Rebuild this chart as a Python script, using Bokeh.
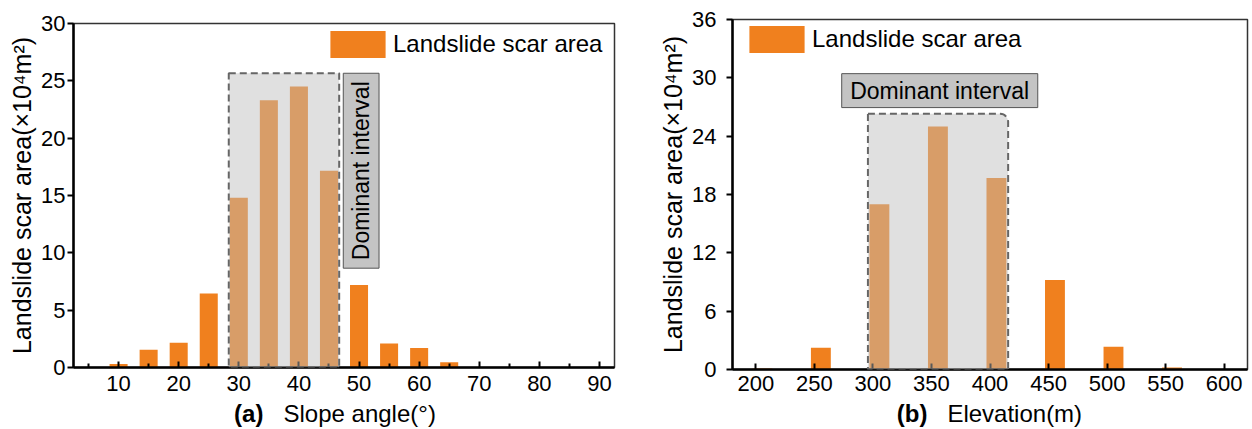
from bokeh.plotting import figure
from bokeh.layouts import row, column
from bokeh.models import ColumnDataSource, FixedTicker, BoxAnnotation, Label, Legend, LegendItem, Range1d
from bokeh.transform import dodge
from bokeh.embed import file_html
from bokeh.resources import INLINE
from math import pi

FONT = "Liberation Sans"
ORANGE = "#f0801e"

# ---- data (a): slope angle ----
slope_angle = [10, 15, 20, 25, 30, 35, 40, 45, 50, 55, 60, 65, 70, 75, 80, 85, 90]
slope_area = [0.3, 1.55, 2.15, 6.45, 14.8, 23.3, 24.5, 17.15, 7.2, 2.1, 1.7, 0.45, 0, 0, 0, 0, 0]
slope_ticks = [10, 20, 30, 40, 50, 60, 70, 80, 90]
slope_minor = [5, 15, 25, 35, 45, 55, 65, 75, 85]
slope_yticks = [0, 5, 10, 15, 20, 25, 30]

# ---- data (b): elevation ----
elevation = [200, 250, 300, 350, 400, 450, 500, 550, 600]
elev_area = [0.1, 2.25, 17.0, 25.0, 19.7, 9.2, 2.35, 0.2, 0]
elev_ticks = [200, 250, 300, 350, 400, 450, 500, 550, 600]
elev_yticks = [0, 6, 12, 18, 24, 30, 36]

YLABEL = "Landslide scar area(×10⁴m²)"
SERIES = "Landslide scar area"
DOM = "Dominant interval"


def style(p, yst, xst):
    p.outline_line_color = "#333333"
    p.outline_line_width = 1.5
    p.grid.visible = False
    for ax in (p.xaxis[0], p.yaxis[0]):
        ax.axis_line_width = 2.5
        ax.axis_line_color = "black"
        ax.major_tick_line_width = 2
        ax.minor_tick_line_width = 2
        ax.major_label_text_font = FONT
        ax.major_label_text_font_size = "22px"
        ax.major_label_text_color = "black"
        ax.axis_label_text_font = FONT
        ax.axis_label_text_font_size = "25px"
        ax.axis_label_text_font_style = "normal"
        ax.axis_label_text_color = "black"
    p.yaxis.major_tick_out = 6
    p.yaxis.major_tick_in = 0
    p.yaxis.minor_tick_out = 0
    p.yaxis.minor_tick_in = 0
    p.yaxis.major_label_standoff = yst
    p.yaxis.axis_label_standoff = 2
    p.xaxis.major_tick_in = 6
    p.xaxis.major_tick_out = 0
    p.xaxis.minor_tick_in = 4
    p.xaxis.minor_tick_out = 0
    p.xaxis.major_label_standoff = xst


def label_fig(xr, width, bl, br):
    f = figure(width=width, height=29, x_range=xr, y_range=Range1d(0, 29),
               x_axis_type=None, y_axis_type=None,
               output_backend="svg", toolbar_location=None,
               min_border_left=bl, min_border_right=br, min_border_top=0, min_border_bottom=0)
    f.outline_line_color = None
    f.grid.visible = False
    return f


def txt(x, y, s, align, bold=False, angle=0.0, size="24px"):
    return Label(x=x, y=y, text=s, angle=angle, text_align=align, text_baseline="middle",
                 text_font=FONT, text_font_size=size, text_color="black",
                 text_font_style="bold" if bold else "normal")


def dom_box(**kw):
    return BoxAnnotation(fill_color="#bdbdbd", fill_alpha=0.47,
                         line_color="#666666", line_alpha=1, line_width=2, line_dash="7 4", **kw)


def tag_box(**kw):
    return BoxAnnotation(fill_color="#c4c4c4", fill_alpha=1,
                         line_color="#555555", line_alpha=1, line_width=1, **kw)


# ---------------- panel (a) ----------------
xr_a = Range1d(2.5, 92.5)
src_a = ColumnDataSource(dict(x=slope_angle, y=slope_area))
pa = figure(width=640, height=400, x_range=xr_a, y_range=(0, 30),
            output_backend="svg", toolbar_location=None,
            min_border_left=73, min_border_right=26, min_border_top=23, min_border_bottom=33)
ra = pa.vbar(x="x", top="y", width=3, source=src_a, fill_color=ORANGE, line_color=None)
pa.xaxis.ticker = FixedTicker(ticks=slope_ticks, minor_ticks=slope_minor)
pa.yaxis.ticker = FixedTicker(ticks=slope_yticks)
pa.yaxis.axis_label = YLABEL
style(pa, 2, 8)

pa.add_layout(dom_box(left=28.33, right=46.7, bottom=0, top=25.66))
pa.add_layout(tag_box(left=47.38, right=53.33, bottom=8.66, top=25.66))
pa.add_layout(txt(50.36, 17.16, DOM, "center", angle=pi / 2, size="23px"))
leg_a = Legend(items=[LegendItem(label=SERIES, renderers=[ra])], location=(250, 306),
               glyph_width=69, glyph_height=34, padding=0, margin=0, label_standoff=1,
               border_line_color=None, background_fill_alpha=0,
               label_text_font=FONT, label_text_font_size="24px", label_text_color="black")
pa.add_layout(leg_a)

la = label_fig(xr_a, 640, 73, 26)
la.add_layout(txt(34.1, 16, "(a)", "right", bold=True))
la.add_layout(txt(37.44, 16, "Slope angle(°)", "left"))

# ---------------- panel (b) ----------------
xr_b = Range1d(180, 620)
src_b = ColumnDataSource(dict(x=elevation, y=elev_area))
pb = figure(width=612, height=400, x_range=xr_b, y_range=(0, 36),
            output_backend="svg", toolbar_location=None,
            min_border_left=92, min_border_right=5, min_border_top=19, min_border_bottom=31)
rb = pb.vbar(x=dodge("x", 5.5), top="y", width=17, source=src_b, fill_color=ORANGE, line_color=None)
pb.xaxis.ticker = FixedTicker(ticks=elev_ticks)
pb.yaxis.ticker = FixedTicker(ticks=elev_yticks)
pb.yaxis.axis_label = YLABEL
style(pb, 10, 6)

pb.add_layout(dom_box(left=295.7, right=415.5, bottom=0, top=26.3, border_radius=(0, 8, 0, 0)))
pb.add_layout(tag_box(left=273.3, right=440.8, bottom=26.94, top=30.43))
pb.add_layout(txt(357.0, 28.69, DOM, "center", size="23px"))
leg_b = Legend(items=[LegendItem(label=SERIES, renderers=[rb])], location=(10, 313),
               glyph_width=69, glyph_height=34, padding=0, margin=0, label_standoff=1,
               border_line_color=None, background_fill_alpha=0,
               label_text_font=FONT, label_text_font_size="24px", label_text_color="black")
pb.add_layout(leg_b)

lb = label_fig(xr_b, 612, 92, 5)
lb.add_layout(txt(346.5, 16, "(b)", "right", bold=True))
lb.add_layout(txt(363.6, 16, "Elevation(m)", "left"))

layout = row(column(pa, la), column(pb, lb))
open("out.html", "w").write(file_html(layout, INLINE))
